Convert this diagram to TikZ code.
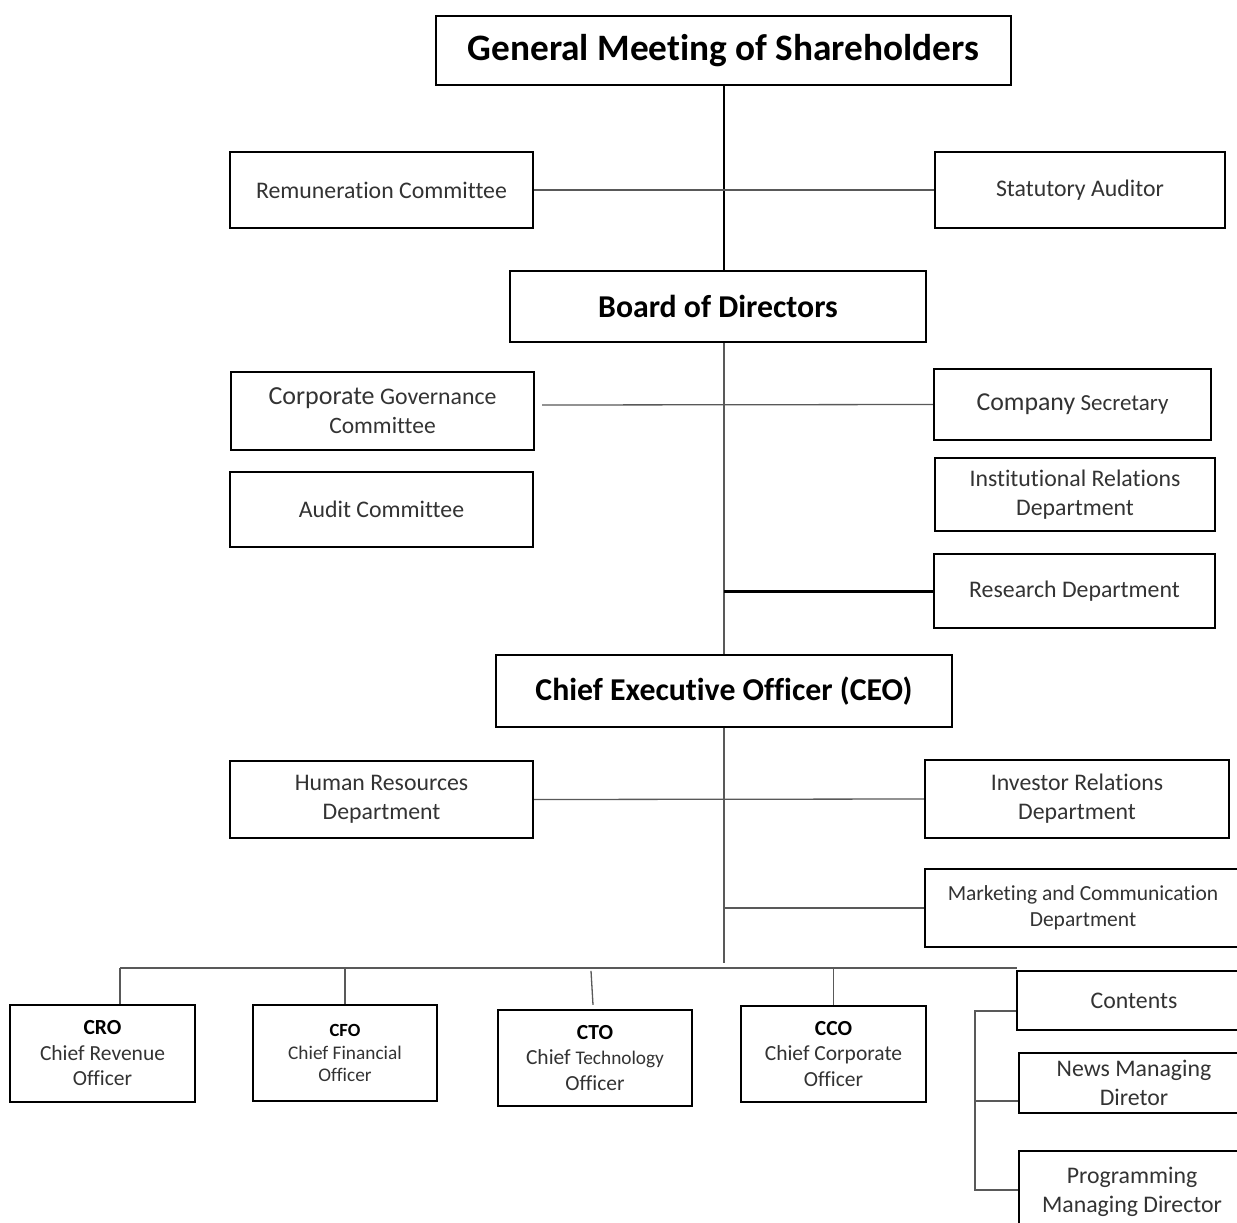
\documentclass[tikz,border=0pt]{standalone}
\usepackage{fontspec}
\setmainfont{Carlito}[Ligatures=NoCommon]
\usetikzlibrary{calc}
\definecolor{txt}{HTML}{333333}
\definecolor{ln}{HTML}{595959}
\begin{document}
\begin{tikzpicture}[x=1pt,y=-1pt,
  box/.style={draw=black, line width=2.3pt, inner sep=0pt, align=center, text=txt,
    font=\fontsize{23.8}{29}\selectfont},
  hd/.style={box, text=black, font=\bfseries\fontsize{31.8}{38}\selectfont},
  chief/.style={box, font=\fontsize{21.5}{25.5}\selectfont},
  conn/.style={draw=ln, line width=1.3pt},
  mainconn/.style={draw=black, line width=2pt},
  thickconn/.style={draw=black, line width=3pt}]
\clip (0,0) rectangle (1237,1223);
\fill[white] (0,0) rectangle (1237,1223);

% top level
\node[hd, minimum width=575, minimum height=69, line width=2pt,
  font=\bfseries\fontsize{37.3}{44}\selectfont] (gms) at (723.5,50.5) {General Meeting of Shareholders};
\node[box, minimum width=303, minimum height=76] (rem) at (381.5,190) {Remuneration Committee};
\node[box, minimum width=290, minimum height=76] (stat) at (1080,190) {Statutory Auditor};
\node[hd, minimum width=416, minimum height=71] (board) at (718,306.5) {Board of Directors};

% board level
\node[box, minimum width=303, minimum height=78] (corpgov) at (382.5,411)
  {{\fontsize{26}{29}\selectfont Corporate} Governance\\{\fontsize{23.5}{29}\selectfont Committee}};
\node[box, minimum width=277, minimum height=71] (compsec) at (1072.5,404.5)
  {{\fontsize{25.8}{29}\selectfont Company} {\fontsize{23}{29}\selectfont Secretary}};
\node[box, minimum width=303, minimum height=75] (audit) at (381.5,509.5) {Audit Committee};
\node[box, minimum width=280, minimum height=73] (instrel) at (1075,494.5) {Institutional Relations\\Department};
\node[box, minimum width=281, minimum height=74] (research) at (1074.5,591) {Research Department};

% CEO level
\node[hd, minimum width=456, minimum height=72] (ceo) at (724,691) {Chief Executive Officer (CEO)};
\node[box, minimum width=303, minimum height=77] (hr) at (381.5,799.5) {Human Resources\\Department};
\node[box, minimum width=304, minimum height=78] (ir) at (1077,799) {Investor Relations\\Department};
\node[box, minimum width=316, minimum height=78, font=\fontsize{21.5}{26}\selectfont] (mkt) at (1083,908)
  {Marketing and Communication\\Department};

% chiefs
\node[chief, minimum width=185, minimum height=97] (cro) at (102.5,1053.5)
  {\textbf{\color{black}CRO}\\Chief Revenue\\Officer};
\node[chief, minimum width=184, minimum height=96, font=\fontsize{19.3}{22.5}\selectfont] (cfo) at (345,1053)
  {{\bfseries\color{black}\fontsize{18.6}{22.5}\selectfont CFO}\\Chief Financial\\Officer};
\node[chief, minimum width=194, minimum height=96] (cto) at (595,1058)
  {\textbf{\color{black}CTO}\\Chief {\fontsize{19.3}{25.5}\selectfont Technology}\\Officer};
\node[chief, minimum width=185, minimum height=96] (cco) at (833.5,1054)
  {\textbf{\color{black}CCO}\\Chief Corporate\\Officer};

% right column
\node[box, minimum width=234, minimum height=59] (contents) at (1134,1000.5) {Contents};
\node[box, minimum width=230, minimum height=60] (news) at (1134,1083) {News Managing\\Diretor};
\node[box, minimum width=226, minimum height=82] (prog) at (1132,1192) {Programming\\Managing Director};

% connectors
\draw[mainconn] (gms.south) -- (gms.south |- board.north);
\draw[conn] (rem.east) -- (stat.west);
\draw[conn] (ceo.north |- board.south) -- (ceo.north);
\draw[conn] ($(corpgov.east)+(7,-6)$) -- (compsec.west);
\draw[thickconn] (ceo.north |- research.west) -- (research.west);
\coordinate (ceoend) at (724,963);
\draw[conn] (ceo.south) -- (ceoend);
\draw[conn] (hr.east) -- (ir.west);
\draw[conn] (ceo.south |- mkt.west) -- (mkt.west);

\coordinate (busL) at (120,968);
\coordinate (busR) at (1017,968);
\draw[conn] (busL) -- (busR);
\draw[conn] (busL) -- (busL |- cro.north);
\draw[conn] (cfo.north |- busL) -- (cfo.north);
\draw[conn] ($(cto.north)+(-4,-38)$) -- ($(cto.north)+(-2,-4)$);
\draw[conn] (cco.north |- busL) -- (cco.north);

\coordinate (bt) at (975,1011);
\coordinate (bm) at (975,1101);
\coordinate (bb) at (975,1190);
\draw[conn] (contents.west |- bt) -- (bt) -- (bb) -- (prog.west |- bb);
\draw[conn] (bm) -- (news.west |- bm);
\end{tikzpicture}
\end{document}
